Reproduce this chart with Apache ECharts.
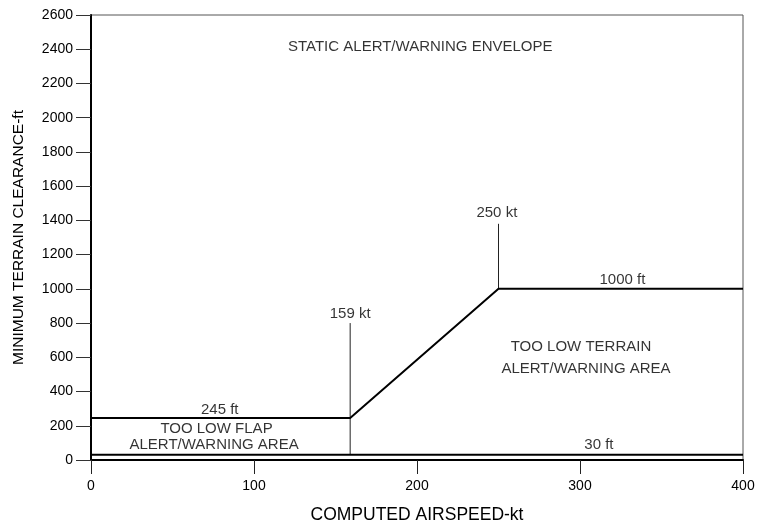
<!DOCTYPE html>
<html>
<head>
<meta charset="utf-8">
<script src="https://cdn.jsdelivr.net/npm/echarts@6/dist/echarts.min.js"></script>
<style>
  html, body { margin: 0; padding: 0; background: #fff; }
  #chart { width: 758px; height: 524px; }
</style>
</head>
<body>
<div id="chart"></div>
<script>
// Axis ranges and ticks
const xTicks = [0, 100, 200, 300, 400];
const yTicks = [0, 200, 400, 600, 800, 1000, 1200, 1400, 1600, 1800, 2000, 2200, 2400, 2600];

// Envelope boundary: flap floor, ramp and terrain floor (kt, ft)
const boundarySpeed = [0, 159, 250, 400];
const boundaryHeight = [245, 245, 1000, 1000];

// Minimum clearance floor
const floorSpeed = [0, 400];
const floorHeight = [30, 30];

// Speed markers (kt, from ft, to ft)
const marker159 = { speed: 159, from: 30, to: 800 };
const marker250 = { speed: 250, from: 1000, to: 1380 };

// Annotation texts and anchors (kt, ft)
const noteText = ['STATIC ALERT/WARNING ENVELOPE', '245 ft', 'TOO LOW FLAP', 'ALERT/WARNING AREA',
  '159 kt', '250 kt', '1000 ft', 'TOO LOW TERRAIN', 'ALERT/WARNING AREA', '30 ft'];
const noteSpeed = [202, 79, 77, 75.5, 159, 249, 326, 300.6, 303.7, 311.6];
const noteHeight = [2413, 292, 181, 88, 853, 1446, 1052, 663, 535, 88];

const pair = (xs, ys) => xs.map((x, i) => [x, ys[i]]);

const chart = echarts.init(document.getElementById('chart'));
const font = 'Liberation Sans, Arial, Helvetica, sans-serif';

chart.setOption({
  animation: false,
  backgroundColor: '#fff',
  textStyle: { fontFamily: font },
  grid: {
    left: 91, right: 15, top: 15, bottom: 64,
    outerBoundsMode: 'none', containLabel: false,
    show: true, borderColor: '#555', borderWidth: 1
  },
  xAxis: {
    type: 'value', min: xTicks[0], max: xTicks[xTicks.length - 1], interval: 100,
    name: 'COMPUTED AIRSPEED-kt', nameLocation: 'middle', nameGap: 46,
    nameTextStyle: { fontSize: 17.5, color: '#000', fontFamily: font },
    axisLine: { lineStyle: { color: '#000', width: 2 } },
    axisTick: { length: 14, lineStyle: { color: '#222', width: 1 } },
    axisLabel: { fontSize: 14, color: '#000', margin: 19, fontFamily: font, formatter: v => String(v) },
    splitLine: { show: false }
  },
  yAxis: {
    type: 'value', min: yTicks[0], max: yTicks[yTicks.length - 1], interval: 200,
    name: 'MINIMUM TERRAIN CLEARANCE-ft', nameLocation: 'middle', nameGap: 64,
    nameTextStyle: { fontSize: 15.5, color: '#000', fontFamily: font },
    axisLine: { lineStyle: { color: '#000', width: 2 } },
    axisTick: { length: 15, lineStyle: { color: '#333', width: 1 } },
    axisLabel: { fontSize: 14, color: '#000', margin: 18, fontFamily: font, formatter: v => String(v) },
    splitLine: { show: false }
  },
  series: [
    {
      type: 'line', data: pair(floorSpeed, floorHeight), symbol: 'none',
      lineStyle: { color: '#000', width: 2 }, z: 3
    },
    {
      type: 'line', data: pair(boundarySpeed, boundaryHeight), symbol: 'none',
      lineStyle: { color: '#000', width: 2 }, z: 3
    },
    {
      type: 'line', data: [[marker159.speed, marker159.from], [marker159.speed, marker159.to]],
      symbol: 'none', lineStyle: { color: '#222', width: 1 }, z: 2
    },
    {
      type: 'line', data: [[marker250.speed, marker250.from], [marker250.speed, marker250.to]],
      symbol: 'none', lineStyle: { color: '#222', width: 1 }, z: 2
    },
    {
      type: 'scatter', symbolSize: 0, silent: true, z: 4,
      data: noteText.map((t, i) => ({ name: t, value: [noteSpeed[i], noteHeight[i]] })),
      label: {
        show: true, position: 'inside', formatter: p => p.name,
        fontSize: 15, color: '#000', fontFamily: font, align: 'center', verticalAlign: 'middle'
      }
    }
  ]
});
</script>
</body>
</html>
